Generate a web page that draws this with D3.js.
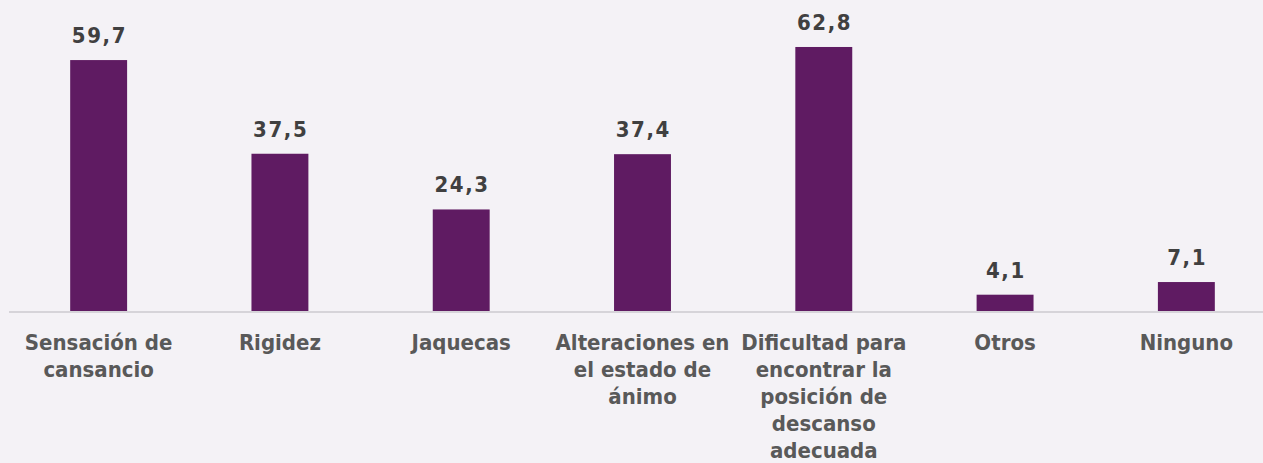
<!DOCTYPE html>
<html>
<head>
<meta charset="utf-8">
<script src="https://cdn.jsdelivr.net/npm/d3@7"></script>
<style>
  html, body { margin: 0; padding: 0; background: #f4f2f6; }
  svg { display: block; }
  .lbl { font-family: "DejaVu Sans Condensed", "DejaVu Sans", sans-serif; font-stretch: condensed; font-weight: bold; }
</style>
</head>
<body>
<svg class="chart" width="1263" height="463"></svg>
<script>
// categories (line breaks as in the original labels)
var categories = [
    "Sensación de\ncansancio",
    "Rigidez",
    "Jaquecas",
    "Alteraciones en\nel estado de\nánimo",
    "Dificultad para\nencontrar la\nposición de\ndescanso\nadecuada",
    "Otros",
    "Ninguno"
];
var values = [59.7, 37.5, 24.3, 37.4, 62.8, 4.1, 7.1];

function draw() {
    const svg = d3.select("svg.chart");
    const base = 312;

    var x = d3.scaleBand()
        .domain(categories)
        .range([8, 1277])
        .paddingInner(0.686)
        .paddingOuter(0.343);

    var y = d3.scaleLinear()
        .domain([0, 70])
        .range([base, base - 70 * 4.22]);

    // bars
    svg.append("g")
      .selectAll("rect")
        .data(values)
      .enter().append("rect")
        .attr("x", (d, i) => x(categories[i]))
        .attr("y", d => y(d))
        .attr("width", x.bandwidth())
        .attr("height", d => y(0) - y(d))
        .attr("fill", "#5f1b62");

    // value labels (a bit letter-spaced, like the original)
    svg.append("g")
      .selectAll("text")
        .data(values)
      .enter().append("text")
        .classed("lbl", true)
        .attr("x", (d, i) => x(categories[i]) + x.bandwidth() / 2 + 0.8)
        .attr("y", d => y(d) - 17)
        .attr("text-anchor", "middle")
        .attr("font-size", 22)
        .attr("letter-spacing", 1.6)
        .attr("fill", "#404040")
        .text(d => d.toFixed(1).replace(".", ","));

    // axis
    var axis = svg.append("g")
        .attr("transform", `translate(0, ${base})`)
        .call(d3.axisBottom(x).tickSize(0).tickFormat(""));
    axis.select("path.domain")
        .attr("stroke", "#d6d4d9")
        .attr("stroke-width", 2)
        .attr("d", "M9,0H1263");

    axis.selectAll(".tick text").remove();
    axis.selectAll(".tick").each(function(c) {
        var t = d3.select(this).append("text")
            .classed("lbl", true)
            .attr("text-anchor", "middle")
            .attr("font-size", 22)
            .attr("fill", "#595959");
        c.split("\n").forEach((line, k) => {
            t.append("tspan")
                .attr("x", 0)
                .attr("y", 38 + k * 27)
                .text(line);
        });
    });
}
draw();
</script>
</body>
</html>
